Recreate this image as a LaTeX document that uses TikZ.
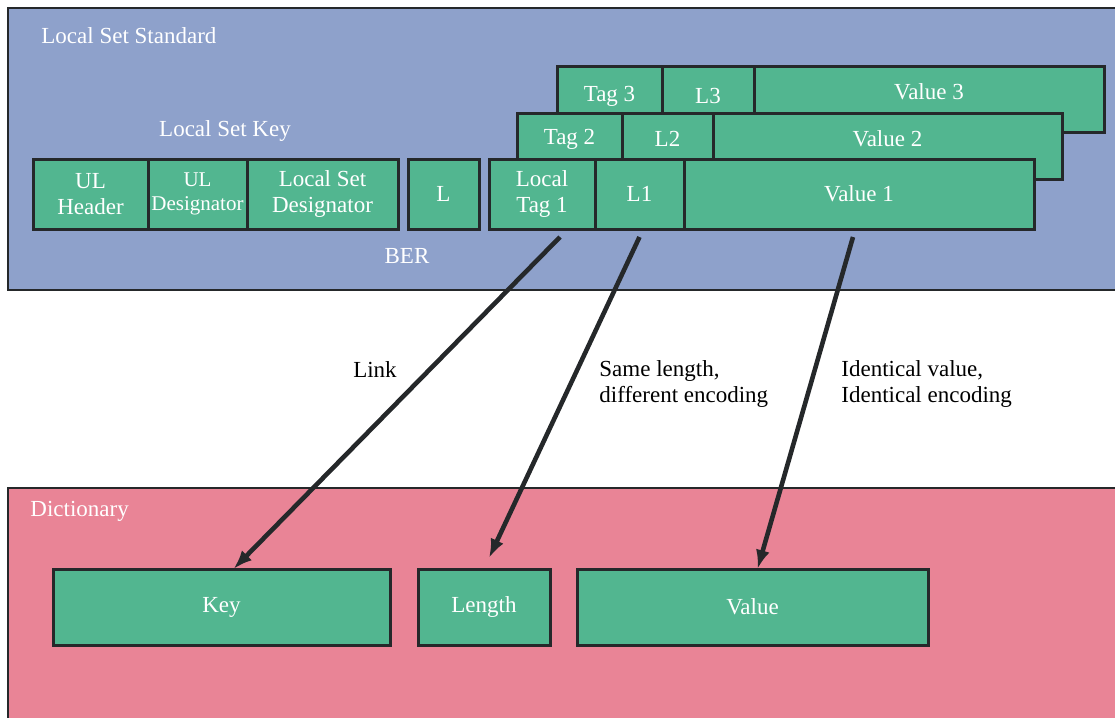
\documentclass[tikz,border=0pt]{standalone}
\usepackage{fontspec}
\setmainfont{Liberation Serif}
\usepackage{xcolor}
\usetikzlibrary{positioning,arrows.meta}

\definecolor{setblue}{HTML}{8EA1CB}
\definecolor{dictpink}{HTML}{E98496}
\definecolor{cellgreen}{HTML}{52B690}
\definecolor{edgedark}{HTML}{25282A}

\tikzset{
  frame/.style={draw=edgedark, line width=1.3pt},
  cell/.style={draw=edgedark, fill=cellgreen, line width=1.5pt, outer sep=0pt,
    inner sep=0pt, text=white, align=center, font=\fontsize{11.5}{13}\selectfont},
  txt/.style={inner sep=0pt, font=\fontsize{11.5}{13}\selectfont},
  wtxt/.style={txt, text=white},
  link/.style={draw=edgedark, line width=2.3pt, -{Latex[length=9.5pt,width=7pt]}}
}

\begin{document}
\begin{tikzpicture}[x=0.5pt, y=-0.5pt]
	\useasboundingbox (0,0) rectangle (1115,718);
	% Frames
	\draw[frame, fill=setblue] (8,8) rectangle (1130,290);
	\draw[frame, fill=dictpink] (8,488) rectangle (1130,730);
	\node[wtxt, anchor=west] (lsstitle) at (41,36) {Local Set Standard};
	\node[wtxt, anchor=west] (dicttitle) at (30,511) {Dictionary};

	% Items 3 and 2 (behind)
	\node[cell, anchor=north west, minimum width=52.5pt, minimum height=33pt] (tag3) at (557,66) {};
	\node[cell, right=0pt of tag3, minimum width=46pt, minimum height=33pt] (l3) {};
	\node[cell, right=0pt of l3, minimum width=175pt, minimum height=33pt] (val3) {};
	\node[wtxt] (tag3t) at ([yshift=-15pt]tag3.north) {Tag 3};
	\node[wtxt] (l3t) at ([yshift=-15pt]l3.north) {L3};
	\node[wtxt] (val3t) at ([yshift=-13pt]val3.north) {Value 3};

	\node[cell, anchor=north west, minimum width=52.5pt, minimum height=33pt] (tag2) at (517,113) {};
	\node[cell, right=0pt of tag2, minimum width=45.5pt, minimum height=33pt] (l2) {};
	\node[cell, right=0pt of l2, minimum width=174.5pt, minimum height=33pt] (val2) {};
	\node[wtxt] (tag2t) at ([yshift=-13pt]tag2.north) {Tag 2};
	\node[wtxt] (l2t) at ([yshift=-13pt]l2.north) {L2};
	\node[wtxt] (val2t) at ([yshift=-13pt]val2.north) {Value 2};

	% Key, length and item 1
	\node[cell, anchor=north west, minimum width=57.5pt, minimum height=35pt] (ulhdr) at (33,159) {UL\\Header};
	\node[cell, right=0pt of ulhdr, minimum width=49.5pt, minimum height=35pt,
	  font=\fontsize{10.5}{12}\selectfont] (uldes) {UL\\Designator};
	\node[cell, right=0pt of uldes, minimum width=75.5pt, minimum height=35pt] (lsdes) {Local Set\\Designator};
	\node[cell, right=5pt of lsdes, minimum width=35.5pt, minimum height=35pt] (berlen) {L};
	\node[cell, right=5pt of berlen, minimum width=53pt, minimum height=35pt] (tag1) {Local\\Tag 1};
	\node[cell, right=0pt of tag1, minimum width=44.5pt, minimum height=35pt] (l1) {L1};
	\node[cell, right=0pt of l1, minimum width=175pt, minimum height=35pt] (val1) {Value 1};
	\node[wtxt] (keyt) at (225,131) {Local Set Key};
	\node[wtxt] (bert) at (407,256) {BER};

	% Dictionary entries
	\node[cell, anchor=north west, minimum width=168.5pt, minimum height=38pt] (dkey) at (53,569) {Key};
	\node[cell, right=14pt of dkey, minimum width=66pt, minimum height=38pt] (dlen) {Length};
	\node[cell, right=13.5pt of dlen, minimum width=175.5pt, minimum height=38pt] (dval) {Value};

	% Links
	\coordinate (s1) at ([xshift=9pt,yshift=-4pt]tag1.south);
	\coordinate (s2) at ([yshift=-4pt]l1.south);
	\coordinate (s3) at ([xshift=-3pt,yshift=-4pt]val1.south);
	\draw[link] (s1) -- ([xshift=6pt]dkey.north);
	\draw[link] (s2) -- ([xshift=2.5pt,yshift=5.5pt]dlen.north);
	\draw[link] (s3) -- ([xshift=2.5pt]dval.north);
	\node[txt] (linkt) at (375,370) {Link};
	\node[txt, anchor=west, align=left] (lent) at (599,384) {Same length,\\different encoding};
	\node[txt, anchor=west, align=left] (valt) at (841,384) {Identical value,\\Identical encoding};
\end{tikzpicture}
\end{document}
